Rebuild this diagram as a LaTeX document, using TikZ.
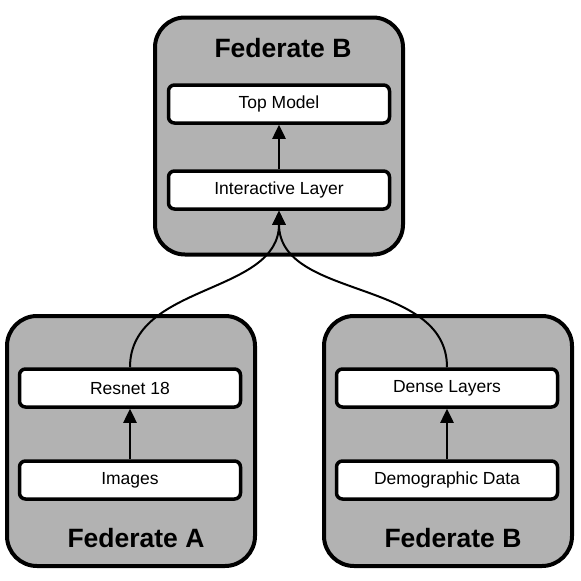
\documentclass[tikz,border=0pt]{standalone}
\usepackage{fontspec}
\setmainfont{Liberation Sans}
\usetikzlibrary{positioning,arrows.meta}

\begin{document}
\begin{tikzpicture}[x=1pt,y=-1pt,
-{Triangle[length=14pt,width=13pt]},node distance=86pt,on grid,
federate/.style={draw,line width=4pt,fill=black!30,rounded corners=30pt,
  minimum width=248pt},
layer/.style={draw,line width=3.5pt,fill=white,rounded corners=6pt,
  minimum width=221pt,minimum height=38pt,font=\fontsize{17.5}{20}\selectfont},
title/.style={font=\fontsize{26.5}{31}\selectfont\bfseries}]
\useasboundingbox (0,0) rectangle (581,581);
% federate boxes
\node[federate,minimum height=237pt] (FB) at (279,136) {};
\node[federate,minimum height=250pt] (FA) at (131,441) {};
\node[federate,minimum height=250pt] (FC) at (448,441) {};
% titles
\node[title] (tB) at (283,48) {Federate B};
\node[title] (tA) at (136,538) {Federate A};
\node[title] (tC) at (453,538) {Federate B};
% layers
\node[layer] (top) at (279,104) {Top Model};
\node[layer] (inter) [below=of top] {Interactive Layer};
\node[layer] (res) at (130,388) {Resnet 18};
\node[layer] (img) [below=92pt of res] {Images};
\node[layer] (dense) at (447,388) {Dense Layers};
\node[layer] (demo) [below=92pt of dense] {Demographic Data};
% connectors
\draw[line width=2.5pt] (inter) -- (top);
\draw[line width=2.5pt] (img) -- (res);
\draw[line width=2.5pt] (demo) -- (dense);
\draw[line width=2pt] (res.north) to[out=90,in=-90] (inter.south);
\draw[line width=2pt] (dense.north) to[out=90,in=-90] (inter.south);
\end{tikzpicture}
\end{document}
